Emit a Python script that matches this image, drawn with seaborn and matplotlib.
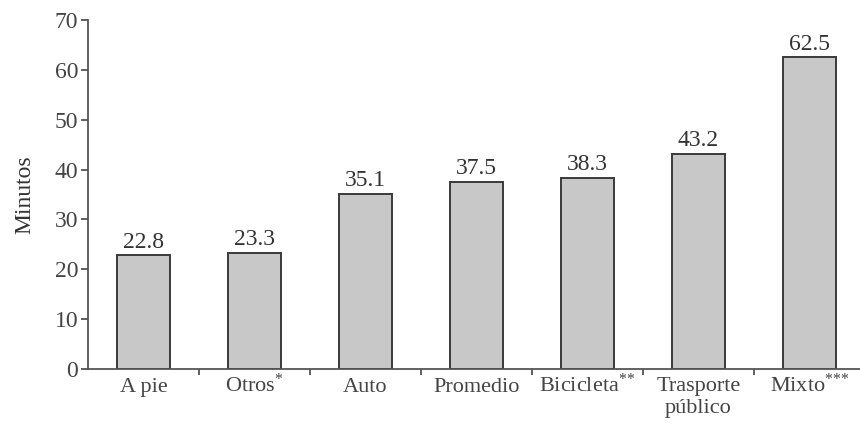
import pandas as pd
import numpy as np
import seaborn as sns
import matplotlib.pyplot as plt

categories = ['A pie', 'Otros$^{*}$', 'Auto', 'Promedio', 'Bicicleta$^{{*}{*}}$',
              'Trasporte\npúblico', 'Mixto$^{{*}{*}{*}}$']
minutes = [22.8, 23.3, 35.1, 37.5, 38.3, 43.2, 62.5]
labels = ['22.8', '23.3', '35.1', '37.5', '38.3', '43.2', '62.5']

sns.set_style('ticks')
plt.rcParams['font.family'] = ['Liberation Serif', 'DejaVu Serif']
plt.rcParams['mathtext.fontset'] = 'custom'
plt.rcParams['mathtext.rm'] = 'Liberation Serif'
plt.rcParams['mathtext.it'] = 'Liberation Serif'
plt.rcParams['text.color'] = '#333333'
plt.rcParams['axes.labelcolor'] = '#333333'
plt.rcParams['xtick.color'] = '#444444'
plt.rcParams['ytick.color'] = '#444444'

df = pd.DataFrame({'cat': range(len(minutes)), 'min': minutes})

fig = plt.figure(figsize=(8.6, 4.32), dpi=100)
ax = fig.add_axes([88 / 860, 63 / 432, 772 / 860, 349 / 432])
sns.barplot(data=df, x='cat', y='min', color='#c8c8c8', saturation=1,
            width=0.47, edgecolor='#3a3a3a', linewidth=1.4, ax=ax)

ax.bar_label(ax.containers[0], labels=labels, padding=2, fontsize=17,
             color='#333333')

ax.set_xlim(-0.5, 6.455)
ax.set_ylim(0, 70)
ax.set_yticks(range(0, 71, 10))
ax.set_xticks(range(len(categories)))
ax.set_xticks(np.arange(0.5, 6, 1), minor=True)
ax.tick_params(axis='x', which='major', length=0, pad=16.5)
ax.tick_params(axis='x', which='minor', length=4, width=1.2, direction='out')
ax.tick_params(axis='y', length=5, width=1.2, labelsize=17, pad=2)
ax.set_xticklabels(categories, fontsize=16, linespacing=1.25)
for t in ax.get_xticklabels():
    if '\n' in t.get_text():
        # two-line label: hang from the top so the first line sits on the shared baseline
        t.set_verticalalignment('top')
        t.set_y(0.044)
    else:
        t.set_verticalalignment('baseline')
ax.set_xlabel('')
ax.set_ylabel('Minutos', fontsize=17, labelpad=14)

sns.despine(ax=ax)
for s in ['left', 'bottom']:
    ax.spines[s].set_color('#555555')
    ax.spines[s].set_linewidth(1.3)

fig.savefig('out.png', dpi=100)
